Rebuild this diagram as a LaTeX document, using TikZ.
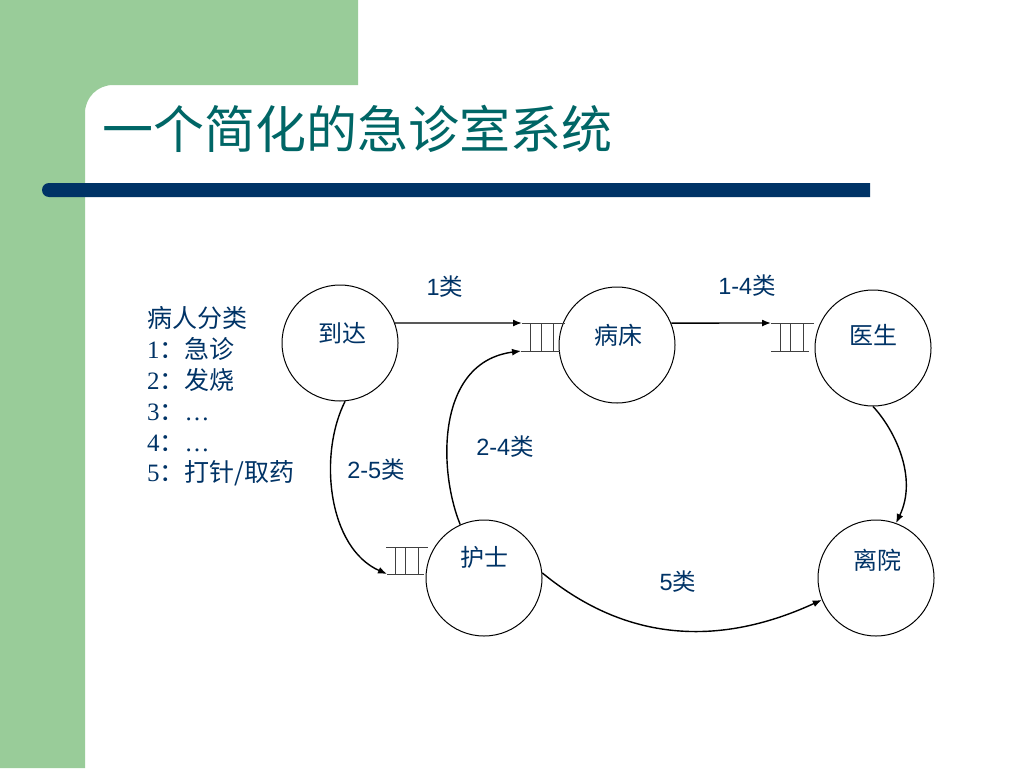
\documentclass[tikz,border=0pt]{standalone}
\usepackage{fontspec}
\setmainfont{Liberation Serif}
\newfontfamily\cjk{Noto Sans CJK SC}
\newfontfamily\sans{Liberation Sans}
\usetikzlibrary{arrows.meta}
\definecolor{bggreen}{RGB}{153,204,153}
\definecolor{barblue}{RGB}{0,51,102}
\definecolor{titlec}{RGB}{0,102,102}
\definecolor{txt}{RGB}{0,51,102}
\begin{document}
\begin{tikzpicture}[x=1pt,y=-1pt,
  station/.style={circle,draw,line width=1pt,minimum size=116pt,inner sep=0pt},
  stlabel/.style={text=txt,font=\cjk\fontsize{24}{24}\selectfont,inner sep=0pt},
  edgelbl/.style={text=txt,font=\sans\fontsize{23.5}{23.5}\selectfont,inner sep=0pt},
  legendline/.style={text=txt,font=\fontsize{25}{25}\selectfont,anchor=base west,inner sep=0pt},
  flow/.style={line width=1.4pt,-{Latex[length=9pt,width=7pt]}},
  queueline/.style={line width=0.9pt,black!75}]
\useasboundingbox (0,0) rectangle (1024,768);
\fill[white] (0,0) rectangle (1024,768);
% background
\fill[bggreen] (0,0) -- (358,0) -- (358,85) -- (113,85)
  arc[start angle=-90,end angle=-180,radius=28] -- (85,768) -- (0,768) -- cycle;
\fill[barblue] (870,183) -- (49,183) arc[start angle=-90,end angle=-270,radius=7] -- (870,197) -- cycle;
% title
\node[anchor=base west,text=titlec,font=\cjk\fontsize{51}{51}\selectfont,inner sep=0pt] (title) at (102,148) {一个简化的急诊室系统};
% legend
\node[legendline] (leg1) at (147,327) {\cjk 病人分类};
\node[legendline] (leg2) at (147,358) {1{\cjk ：急诊}};
\node[legendline] (leg3) at (147,389) {2{\cjk ：发烧}};
\node[legendline] (leg4) at (147,420) {3{\cjk ：}…};
\node[legendline] (leg5) at (147,451) {4{\cjk ：}…};
\node[legendline] (leg6) at (147,481) {5{\cjk ：打针/取药}};
% stations
\node[station] (arr) at (340,343) {};
\node[station] (bed) at (617,345) {};
\node[station] (doc) at (873,348) {};
\node[station] (nur) at (484,578) {};
\node[station] (lea) at (876,578) {};
\node[stlabel] (arrT) at (342,333) {到达};
\node[stlabel] (bedT) at (618,335) {病床};
\node[stlabel] (docT) at (873,335) {医生};
\node[stlabel] (nurT) at (484,557) {护士};
\node[stlabel] (leaT) at (877,560) {离院};
% queues
\coordinate (q1t) at (522,323); \coordinate (q1b) at (521,351);
\coordinate (q2t) at (771,323); \coordinate (q2b) at (771,351);
\coordinate (q3t) at (386,547); \coordinate (q3b) at (387,574);
\draw[queueline] (q1t) -- (565,323) (q1b) -- (560,351);
\foreach \x in {530,541,553} \draw[queueline] (\x,323) -- (\x,351);
\draw[queueline] (q2t) -- (814,323) (q2b) -- (809,351);
\foreach \x in {780,790,803} \draw[queueline] (\x,323) -- (\x,351);
\draw[queueline] (q3t) -- (428,547) (q3b) -- (424,574);
\foreach \x in {395,405,418} \draw[queueline] (\x,547) -- (\x,574);
% flows
\draw[flow] (arr.20) -- (q1t);
\draw[flow] (bed.22) -- (q2t);
\draw[flow] (nur.114) .. controls (438,470) and (436,362) .. (q1b);
\draw[flow] (arr.275) .. controls (318,455) and (328,548) .. (q3b);
\draw[flow] (doc.270) .. controls (895,430) and (918,478) .. (lea.70);
\draw[flow] (nur.5) .. controls (590,612) and (680,665) .. (lea.202);
% edge labels
\node[edgelbl] (l1) at (445,287) {1{\cjk 类}};
\node[edgelbl] (l2) at (747,286) {1-4{\cjk 类}};
\node[edgelbl] (l3) at (505,447) {2-4{\cjk 类}};
\node[edgelbl] (l4) at (376,470) {2-5{\cjk 类}};
\node[edgelbl] (l5) at (678,582) {5{\cjk 类}};
\end{tikzpicture}
\end{document}
